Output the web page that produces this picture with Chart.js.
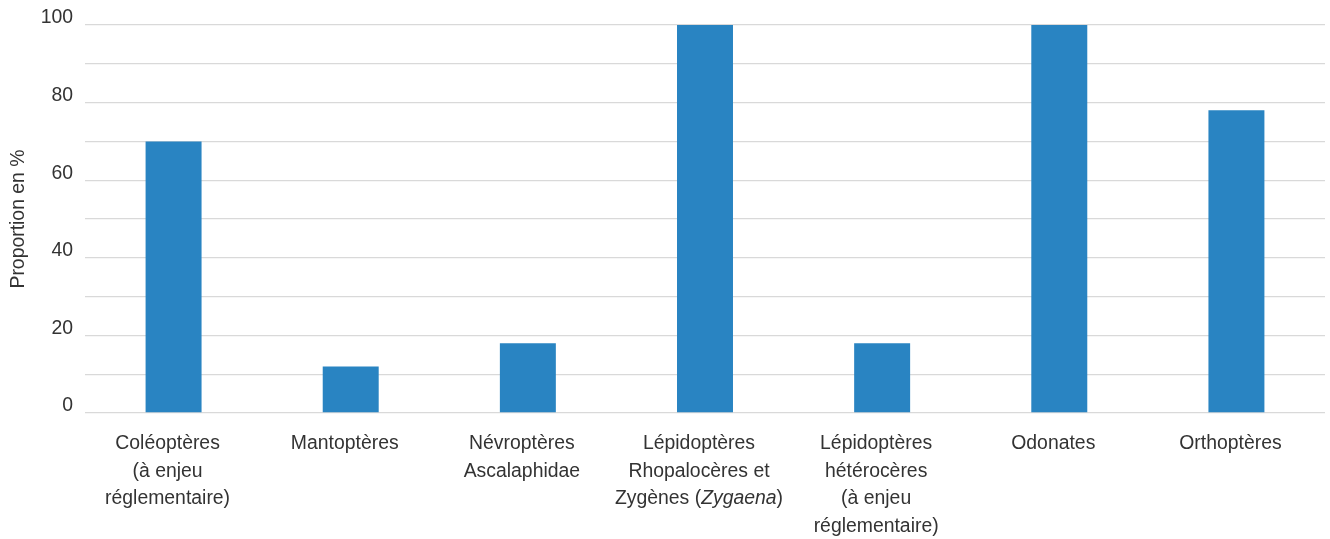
<!DOCTYPE html>
<html><head><meta charset="utf-8">
<script src="https://cdn.jsdelivr.net/npm/chart.js@4"></script>
<style>html,body{margin:0;padding:0;background:#fff}#wrap{width:1330px;height:539px}</style>
</head><body><div id="wrap"><canvas id="c"></canvas></div>
<script>
const categories = [
  ["Coléoptères", "(à enjeu", "réglementaire)"],
  ["Mantoptères"],
  ["Névroptères", "Ascalaphidae"],
  ["Lépidoptères", "Rhopalocères et", "Zygènes (_Zygaena_)"],
  ["Lépidoptères", "hétérocères", "(à enjeu", "réglementaire)"],
  ["Odonates"],
  ["Orthoptères"]
];
const values = [70, 12, 18, 100, 18, 100, 78];
const yTickLabels = [0, 20, 40, 60, 80, 100];
const yTitle = "Proportion en %";

const FONT = '"Liberation Sans", Arial, sans-serif';
const FS = 19.4;
const TXT = '#333333';

const labelPlugin = {
  id: 'xlabels',
  afterDraw(chart) {
    const ctx = chart.ctx, xs = chart.scales.x;
    ctx.save();
    ctx.fillStyle = TXT;
    ctx.textBaseline = 'middle';
    categories.forEach((lines, i) => {
      const cx = xs.getPixelForValue(i) - 6;
      lines.forEach((line, j) => {
        const y = 444 + j * 27.5;
        const parts = line.split('_');
        let total = 0;
        const widths = parts.map((p, k) => {
          ctx.font = (k % 2 ? 'italic ' : '') + FS + 'px ' + FONT;
          const w = ctx.measureText(p).width; total += w; return w;
        });
        let x = cx - total / 2;
        ctx.textAlign = 'left';
        parts.forEach((p, k) => {
          ctx.font = (k % 2 ? 'italic ' : '') + FS + 'px ' + FONT;
          ctx.fillText(p, x, y);
          x += widths[k];
        });
      });
    });
    ctx.restore();
  }
};

new Chart(document.getElementById('c'), {
  type: 'bar',
  data: {
    labels: categories.map(l => l.join(' ').replace(/_/g, '')),
    datasets: [{
      data: values,
      backgroundColor: '#2984c2',
      borderWidth: 0,
      barPercentage: 0.316,
      categoryPercentage: 1.0
    }]
  },
  options: {
    responsive: true,
    maintainAspectRatio: false,
    animation: false,
    layout: { padding: { top: 25, right: 5, left: 7, bottom: 0 } },
    plugins: { legend: { display: false }, tooltip: { enabled: false } },
    scales: {
      x: {
        grid: { display: false },
        border: { display: false },
        ticks: { display: false },
        afterFit(s) { s.height = 126; }
      },
      y: {
        min: 0, max: 100,
        border: { display: false },
        grid: { color: '#d9d9d9', lineWidth: 1.3, drawTicks: false },
        ticks: {
          stepSize: 10,
          padding: 12,
          labelOffset: -7,
          color: TXT,
          font: { family: FONT, size: FS },
          callback: v => yTickLabels.includes(v) ? String(v) : ''
        },
        title: {
          display: true, text: yTitle, color: TXT,
          font: { family: FONT, size: FS }, padding: { top: 0, bottom: 8 }
        },
        afterFit(s) { s.width = 78; }
      }
    }
  },
  plugins: [labelPlugin]
});
</script></body></html>
